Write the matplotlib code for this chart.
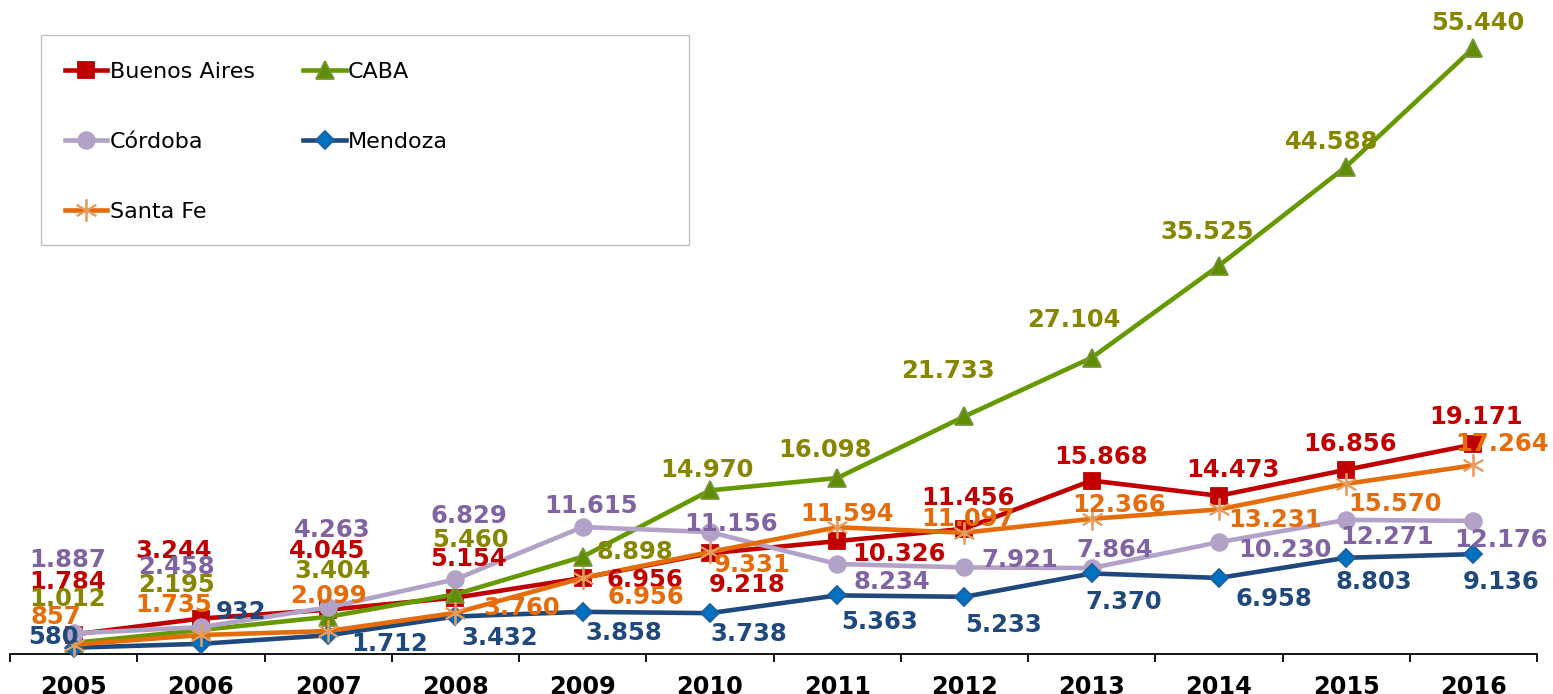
import numpy as np
import matplotlib.pyplot as plt
from matplotlib.patches import Rectangle

# ── data ─────────────────────────────────────────────────────────────
years = ["2005", "2006", "2007", "2008", "2009", "2010",
         "2011", "2012", "2013", "2014", "2015", "2016"]
buenos_aires = [1784, 3244, 4045, 5154, 6956, 9218, 10326, 11456, 15868, 14473, 16856, 19171]
caba = [1012, 2195, 3404, 5460, 8898, 14970, 16098, 21733, 27104, 35525, 44588, 55440]
cordoba = [1887, 2458, 4263, 6829, 11615, 11156, 8234, 7921, 7864, 10230, 12271, 12176]
mendoza = [580, 932, 1712, 3432, 3858, 3738, 5363, 5233, 7370, 6958, 8803, 9136]
santa_fe = [857, 1735, 2099, 3760, 6956, 9331, 11594, 11097, 12366, 13231, 15570, 17264]

# label offsets (pixels from the point: dx, dy up) — Excel-style hand-placed labels
off_ba = [(-6, 55), (-27, 70), (-1, 61), (13, 41), (62, 0), (37, -30),
          (62, -11), (4, 33), (9, 26), (14, 28), (4, 28), (3, 29)]
off_caba = [(-6, 46), (-24, 47), (4, 48), (15, 56), (52, 7), (-3, 22),
            (-12, 30), (-16, 47), (-18, 40), (-12, 36), (-14, 27), (4, 27)]
off_cordoba = [(-6, 75), (-24, 62), (4, 79), (13, 65), (8, 23), (21, 10),
               (55, -16), (55, 9), (23, 20), (66, -6), (41, -15), (28, -17)]
off_mendoza = [(-20, 13), (40, 34), (62, -7), (44, -20), (41, -19), (39, -19),
               (42, -25), (39, -26), (32, -27), (55, -19), (28, -22), (28, -26)]
off_santa_fe = [(-18, 30), (-27, 32), (0, 37), (66, 7), (63, -17), (42, -11),
                (10, 15), (4, 16), (27, 16), (56, -9), (49, -18), (29, 23)]

W, H = 1553, 694
fig = plt.figure(figsize=(W / 100, H / 100), dpi=100)
fig.patch.set_facecolor("white")
ax = fig.add_axes([10 / W, 40 / H, 1527 / W, 654 / H])

x = np.arange(len(years))

series = [
    # name, values, line colour, marker, marker face, marker edge, size, label colour, offsets
    ("Buenos Aires", buenos_aires, "#C00000", "s", "#C00000", "#C00000", 11, "#C00000", off_ba),
    ("CABA", caba, "#669900", "^", "#5F8F00", "#77933C", 13, "#868600", off_caba),
    ("Córdoba", cordoba, "#B3A2C7", "o", "#B3A2C7", "#B3A2C7", 12, "#8064A2", off_cordoba),
    ("Mendoza", mendoza, "#1F497D", "D", "#0070C0", "#1F5F9F", 9, "#1F497D", off_mendoza),
    ("Santa Fe", santa_fe, "#E46C0A", (6, 2, 0), "#E59C5C", "#E59C5C", 16, "#E46C0A", off_santa_fe),
]

handles = {}
for name, vals, lc, mk, mfc, mec, ms, tc, offs in series:
    ln, = ax.plot(x, vals, color=lc, lw=3.3, marker=mk, markersize=ms,
                  markerfacecolor=mfc, markeredgecolor=mec, markeredgewidth=1.3,
                  label=name, zorder=3, clip_on=False)
    handles[name] = ln
    for i, v in enumerate(vals):
        txt = f"{v:,}".replace(",", ".")
        dx, dy = offs[i]
        ax.annotate(txt, xy=(x[i], v), xytext=(dx, dy - 9), textcoords="offset pixels",
                    ha="center", va="baseline", fontsize=17.5, fontweight="bold",
                    color=tc, zorder=6, annotation_clip=False)

ax.set_xlim(-0.5, len(years) - 0.5)
ax.set_ylim(0, 654 / 0.01093)

ax.set_xticks(x)
ax.set_xticklabels(years, fontsize=17.3, fontweight="bold", color="black")
ax.set_xticks(np.arange(-0.5, len(years), 1), minor=True)
ax.tick_params(axis="x", which="major", length=0, pad=15)
ax.tick_params(axis="x", which="minor", length=5.5, width=1.3, color="black")
ax.set_yticks([])
for s in ["top", "right", "left"]:
    ax.spines[s].set_visible(False)
ax.spines["bottom"].set_linewidth(1.3)
ax.spines["bottom"].set_color("black")

# legend box
fig.add_artist(Rectangle((41 / W, 1 - 245 / H), 648 / W, 210 / H, transform=fig.transFigure,
                         facecolor="white", edgecolor="#BFBFBF", lw=1.0, zorder=1))
order = ["Buenos Aires", "Córdoba", "Santa Fe", "CABA", "Mendoza"]
leg = fig.legend([handles[n] for n in order], order, ncol=2, loc="upper left",
                 bbox_to_anchor=(54 / W, 1 - 51 / H), frameon=False, fontsize=16,
                 borderpad=0, labelspacing=2.25, handlelength=1.9, handletextpad=0.1,
                 columnspacing=2.2, markerscale=1.0)
leg.set_zorder(5)

fig.savefig("out.png", dpi=100)
